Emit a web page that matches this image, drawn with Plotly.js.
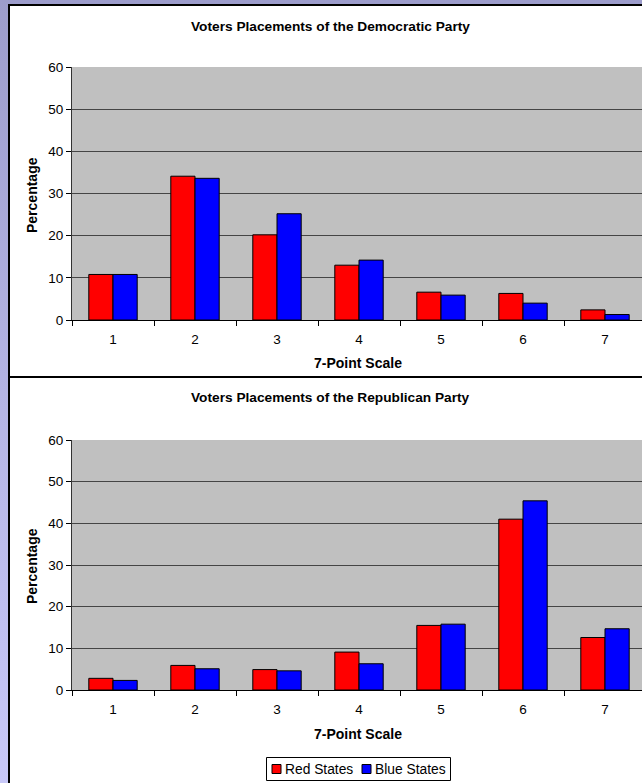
<!DOCTYPE html>
<html>
<head>
<meta charset="utf-8">
<script src="https://cdn.plot.ly/plotly-3.0.1.min.js"></script>
<style>
  html, body { margin: 0; padding: 0; overflow: hidden; width: 642px; height: 783px; }
  body { background: linear-gradient(to bottom, #9c9ccb 0%, #b4b4e4 50%, #c8c8f8 100%); position: relative; }
  #wrap { position: absolute; left: 8px; top: 4px; border-left: 2px solid #000; border-top: 2px solid #000; background: #fff; }
  #chart { width: 632px; height: 777px; }
</style>
</head>
<body>
<div id="wrap"><div id="chart"></div></div>
<script>
// ---- data ----
const categories = ['1', '2', '3', '4', '5', '6', '7'];
const demRed  = [10.8, 34.1, 20.2, 13.0, 6.6, 6.3, 2.4];
const demBlue = [10.8, 33.6, 25.2, 14.2, 5.9, 4.0, 1.3];
const repRed  = [2.8, 5.9, 4.9, 9.1, 15.5, 41.0, 12.6];
const repBlue = [2.3, 5.1, 4.6, 6.3, 15.8, 45.4, 14.7];
const seriesNames = ['Red States', 'Blue States'];
const seriesColors = ['#ff0000', '#0000ff'];
const panelTitles = ['Voters Placements of the Democratic Party', 'Voters Placements of the Republican Party'];
const yTitle = 'Percentage';
const xTitle = '7-Point Scale';

// ---- geometry helpers (page pixel -> paper) ----
const OX = 10, OY = 6, W = 632, H = 777;
const px = v => (v - OX) / W;
const py = v => 1 - (v - OY) / H;
const FONT = 'Liberation Sans, Arial, sans-serif';

const barLine = { color: '#000000', width: 1 };

const traces = [
  { type: 'bar', x: categories, y: demRed, name: seriesNames[0], marker: { color: seriesColors[0], line: barLine }, xaxis: 'x', yaxis: 'y' },
  { type: 'bar', x: categories, y: demBlue, name: seriesNames[1], marker: { color: seriesColors[1], line: barLine }, xaxis: 'x', yaxis: 'y' },
  { type: 'bar', x: categories, y: repRed, name: seriesNames[0], marker: { color: seriesColors[0], line: barLine }, xaxis: 'x2', yaxis: 'y2' },
  { type: 'bar', x: categories, y: repBlue, name: seriesNames[1], marker: { color: seriesColors[1], line: barLine }, xaxis: 'x2', yaxis: 'y2' }
];

const catW = 82; // pixels per category
const xRange = [-0.5, -0.5 + (642 - 72) / catW];

function xAxis(anchor) {
  return {
    anchor: anchor, domain: [px(72), 1], type: 'category', range: xRange,
    tickson: 'boundaries', ticks: 'outside', ticklen: 5, tickcolor: '#000', tickwidth: 1,
    ticklabelstandoff: 7,
    showline: true, linecolor: '#000', linewidth: 1, showgrid: false, zeroline: false,
    tickfont: { family: FONT, size: 13.5, color: '#000' }, fixedrange: true
  };
}
function yAxis(anchor, top, bottom) {
  return {
    anchor: anchor, domain: [py(bottom), py(top)], range: [0, 60], dtick: 10,
    ticks: 'outside', ticklen: 5, tickcolor: '#000', tickwidth: 1,
    showline: true, linecolor: '#333', linewidth: 1,
    showgrid: true, gridcolor: '#454545', gridwidth: 1, zeroline: false,
    tickfont: { family: FONT, size: 13.5, color: '#000' }, fixedrange: true
  };
}

const shapes = [
  { type: 'line', xref: 'paper', yref: 'paper', x0: 0, x1: 1, y0: py(377), y1: py(377), line: { color: '#000', width: 2 }, layer: 'above' },
  // legend box
  { type: 'rect', xref: 'paper', yref: 'paper', x0: px(266.5), x1: px(450.5), y0: py(757.5), y1: py(780.5), line: { color: '#000', width: 1 }, fillcolor: '#fff', layer: 'above' }
];

function ann(text, x, y, size, bold, angle, xanchor) {
  return {
    text: bold ? '<b>' + text + '</b>' : text, xref: 'paper', yref: 'paper', x: px(x), y: py(y),
    xanchor: xanchor || 'center', yanchor: 'middle', showarrow: false, textangle: angle || 0,
    font: { family: FONT, size: size, color: '#000' }
  };
}

const annotations = [
  ann(panelTitles[0], 330, 27, 13.7, true),
  ann(panelTitles[1], 330, 398, 13.7, true),
  ann(yTitle, 32, 195, 14, true, -90),
  ann(yTitle, 32, 566, 14, true, -90),
  ann(xTitle, 358, 363, 14, true),
  ann(xTitle, 358, 734, 14, true)
];

// legend entries (symbol squares + labels)
const legendX = [272, 362];
seriesNames.forEach((name, i) => {
  shapes.push({ type: 'rect', xref: 'paper', yref: 'paper', x0: px(legendX[i]), x1: px(legendX[i] + 9), y0: py(764.5), y1: py(773.5), line: { color: '#000', width: 1 }, fillcolor: seriesColors[i], layer: 'above' });
  annotations.push(ann(name, legendX[i] + 11, 769, 13.8, false, 0, 'left'));
});

const layout = {
  width: W, height: H,
  margin: { l: 0, r: 0, t: 0, b: 0, pad: 0 },
  paper_bgcolor: '#ffffff', plot_bgcolor: '#c0c0c0',
  barmode: 'group', bargap: 0.41, bargroupgap: 0,
  xaxis: xAxis('y'), yaxis: yAxis('x', 67, 320),
  xaxis2: xAxis('y2'), yaxis2: yAxis('x2', 440, 690),
  showlegend: false,
  shapes: shapes,
  annotations: annotations
};

Plotly.newPlot('chart', traces, layout, { staticPlot: true, displayModeBar: false });
</script>
</body>
</html>
